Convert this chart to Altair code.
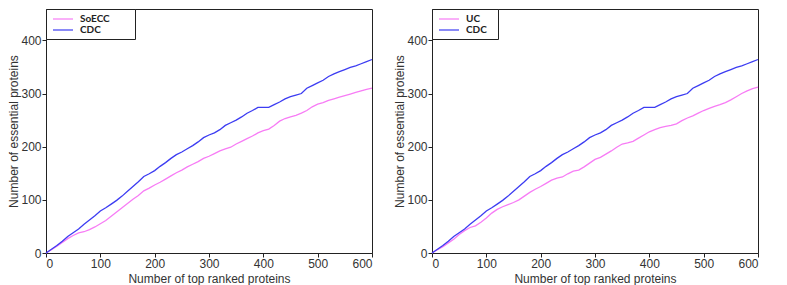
import altair as alt
import pandas as pd

x_vals = list(range(0, 601, 10))

cdc = [0, 7, 14, 22, 31, 38, 45, 54, 62, 70, 79, 85, 92, 99, 107, 116, 125, 134, 144, 149,
       155, 163, 170, 178, 185, 190, 196, 202, 209, 217, 222, 226, 232, 240, 245, 250, 256, 263,
       268, 274, 274, 274, 279, 284, 290, 294, 297, 300, 310, 315, 320, 325, 332, 337, 341, 345,
       349, 352, 356, 360, 364]

soecc = [0, 6, 13, 20, 27, 33, 38, 40, 44, 49, 55, 61, 69, 77, 85, 93, 101, 108, 117, 122,
         128, 133, 139, 145, 151, 156, 162, 167, 172, 178, 182, 187, 192, 196, 199, 205, 210, 215,
         220, 226, 230, 233, 240, 248, 253, 256, 259, 263, 268, 275, 280, 283, 287, 290, 293, 296,
         299, 302, 305, 308, 310]

uc = [0, 6, 12, 19, 26, 35, 42, 48, 51, 58, 66, 75, 82, 87, 91, 95, 100, 107, 114, 120,
      125, 131, 137, 141, 143, 149, 154, 156, 162, 169, 176, 180, 186, 192, 199, 205, 207, 210,
      216, 222, 228, 232, 236, 238, 240, 243, 249, 254, 258, 263, 268, 272, 276, 279, 283, 288,
      294, 300, 305, 309, 312]

x_ticks = [0, 100, 200, 300, 400, 500, 600]
y_ticks = [0, 100, 200, 300, 400]

PINK = "#f77cf5"
BLUE = "#3c3cf2"
FONT = "Liberation Sans"


def panel(name, vals, pad_chars):
    n = len(x_vals)
    df = pd.DataFrame({
        "x": x_vals * 2,
        "y": vals + cdc,
        "method": [name] * n + ["CDC"] * n,
    })
    pad = "\u2800" * pad_chars
    return alt.Chart(df).mark_line(strokeWidth=1.3).encode(
        x=alt.X("x:Q", scale=alt.Scale(domain=[0, 600], nice=False),
                axis=alt.Axis(values=x_ticks, title="Number of top ranked proteins",
                              titlePadding=4)),
        y=alt.Y("y:Q", scale=alt.Scale(domain=[0, 459], nice=False),
                axis=alt.Axis(values=y_ticks, title="Number of essential proteins",
                              titlePadding=0)),
        color=alt.Color("method:N", sort=[name, "CDC"],
                        scale=alt.Scale(domain=[name, "CDC"], range=[PINK, BLUE]),
                        legend=alt.Legend(title=None, orient="top-left", offset=0,
                                          fillColor="white", strokeColor="#222",
                                          padding=4, symbolType="M-2,0H2",
                                          symbolSize=100, symbolStrokeWidth=1.2,
                                          symbolOffset=7, labelOffset=11,
                                          labelFont="Lato", labelFontWeight="bold",
                                          labelFontSize=10, labelColor="#222",
                                          rowPadding=0,
                                          labelExpr="datum.label + '" + pad + "'")),
    ).properties(width=326, height=244)


left = panel("SoECC", soecc, 3)
right = panel("UC", uc, 1)

chart = alt.hconcat(left, right, spacing=17).resolve_scale(
    color="independent").resolve_legend(color="independent").properties(
    padding={"left": -1, "top": 0, "right": 0, "bottom": 0}
).configure_view(stroke="#222", strokeWidth=1).configure_axis(
    labelFont=FONT, titleFont=FONT, labelFontSize=12, titleFontSize=12,
    labelColor="#333", titleColor="#333", titleFontWeight="normal",
    domainColor="#222", tickColor="#222", tickSize=4, labelPadding=1,
    grid=False
)

chart.save("out.html", embed_options={"renderer": "svg", "actions": False})
